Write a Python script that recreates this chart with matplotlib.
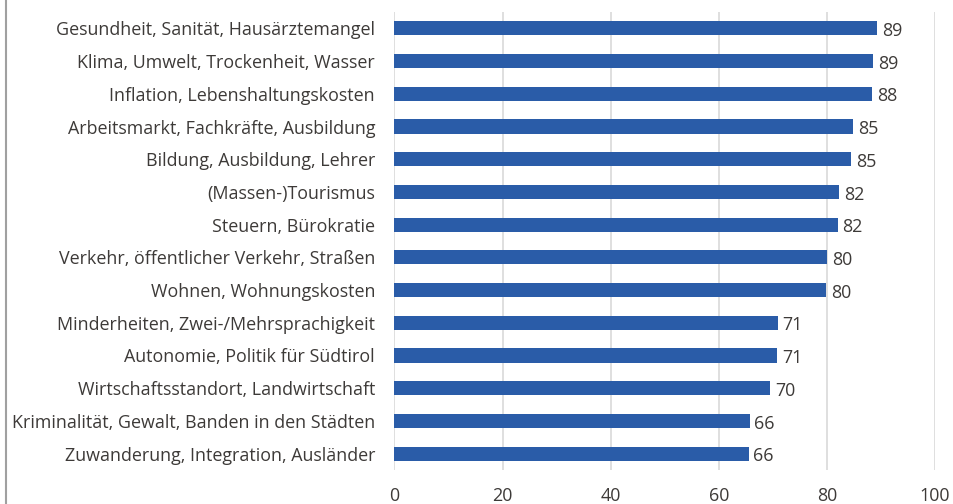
import matplotlib
matplotlib.use("Agg")
from matplotlib import pyplot as plt
from matplotlib.lines import Line2D

plt.rcParams['font.family'] = ['Open Sans', 'DejaVu Sans']

# topics, top to bottom
topics = [
    "Gesundheit, Sanität, Hausärztemangel",
    "Klima, Umwelt, Trockenheit, Wasser",
    "Inflation, Lebenshaltungskosten",
    "Arbeitsmarkt, Fachkräfte, Ausbildung",
    "Bildung, Ausbildung, Lehrer",
    "(Massen-)Tourismus",
    "Steuern, Bürokratie",
    "Verkehr, öffentlicher Verkehr, Straßen",
    "Wohnen, Wohnungskosten",
    "Minderheiten, Zwei-/Mehrsprachigkeit",
    "Autonomie, Politik für Südtirol",
    "Wirtschaftsstandort, Landwirtschaft",
    "Kriminalität, Gewalt, Banden in den Städten",
    "Zuwanderung, Integration, Ausländer",
]
values = [89.3, 88.5, 88.4, 84.8, 84.5, 82.3, 82.0, 80.1, 79.9, 70.9, 70.8, 69.5, 65.7, 65.5]
value_labels = ["89", "89", "88", "85", "85", "82", "82", "80", "80", "71", "71", "70", "66", "66"]
xticks = [0, 20, 40, 60, 80, 100]

txt = "#3d3a38"
fs = 12.9
fig = plt.figure(figsize=(9.54, 5.04), dpi=100)
ax = fig.add_axes([394.5 / 954, 34 / 504, 540.5 / 954, 458 / 504])

pos = list(range(len(topics)))[::-1]
ax.barh(pos, values, height=0.43, color="#2a5ca8", zorder=3)
for p, v, lab in zip(pos, values, value_labels):
    ax.text(v + 0.9, p - 0.08, lab, va="center", ha="left", fontsize=fs, color=txt)

ax.set_xlim(0, 100)
ax.set_ylim(-0.5, 13.5)
ax.set_yticks(pos)
ax.set_yticklabels(topics, fontsize=fs, color=txt)
ax.set_xticks(xticks)
ax.set_xticklabels([str(x) for x in xticks], fontsize=fs, color=txt)
ax.tick_params(axis="both", length=0)
ax.tick_params(axis="x", pad=12)
ax.tick_params(axis="y", pad=14)
ax.grid(axis="x", color="#d9d9d9", linewidth=1.2, zorder=0)
for s in ax.spines.values():
    s.set_visible(False)

fig.add_artist(Line2D([6 / 954, 6 / 954], [0, 1], color="#a0a0a0", linewidth=1.5))

fig.savefig("out.png", dpi=100)
